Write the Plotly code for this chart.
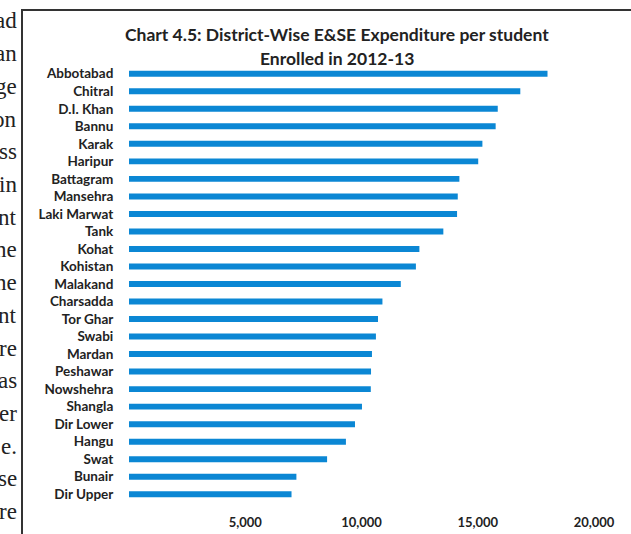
import plotly.graph_objects as go

# District-wise E&SE expenditure per student enrolled, 2012-13 (PKR)
districts = [
    "Abbotabad", "Chitral", "D.I. Khan", "Bannu", "Karak", "Haripur",
    "Battagram", "Mansehra", "Laki Marwat", "Tank", "Kohat", "Kohistan",
    "Malakand", "Charsadda", "Tor Ghar", "Swabi", "Mardan", "Peshawar",
    "Nowshehra", "Shangla", "Dir Lower", "Hangu", "Swat", "Bunair", "Dir Upper",
]
expenditure = [
    18000, 16830, 15860, 15770, 15200, 15020,
    14210, 14140, 14110, 13520, 12490, 12340,
    11690, 10900, 10710, 10620, 10450, 10410,
    10400, 10020, 9720, 9330, 8520, 7200, 6990,
]
tick_values = [5000, 10000, 15000, 20000]
tick_labels = ["5,000", "10,000", "15,000", "20,000"]

# Fragments of the running page text beside the chart box
side_text = ["ad", "an", "ge", "on", "ss", "in", "nt", "ne", "ne", "nt",
             "re", "as", "er", "e.", "se", "re"]

W, H = 631, 534
L, R, T, B = 129, 37, 65, 31
PW, PH = W - L - R, H - T - B


def px(x):
    return (x - L) / PW


def py(y):
    return (H - B - y) / PH


fig = go.Figure(go.Bar(
    x=expenditure,
    y=districts,
    orientation="h",
    marker=dict(color="#0b87d4", line=dict(width=0)),
    width=0.34,
    hoverinfo="x+y",
))

title_font = dict(family="Lato", size=17.5, color="#222222", weight="bold")
annotations = [
    dict(text="Chart 4.5: District-Wise E&SE Expenditure per student",
         x=px(337), y=py(34), xref="paper", yref="paper",
         xanchor="center", yanchor="middle", showarrow=False, font=title_font),
    dict(text="Enrolled in 2012-13",
         x=px(337), y=py(59), xref="paper", yref="paper",
         xanchor="center", yanchor="middle", showarrow=False, font=title_font),
]

for i, frag in enumerate(side_text):
    annotations.append(dict(
        text=frag, x=px(19), y=py(21 + i * 32.7), xref="paper", yref="paper",
        xanchor="right", yanchor="middle", showarrow=False,
        font=dict(family="Liberation Serif", size=23, color="#222222"),
    ))

shapes = [
    dict(type="line", xref="paper", yref="paper",
         x0=px(22), x1=px(22), y0=py(10), y1=py(560),
         line=dict(color="#333333", width=2)),
    dict(type="line", xref="paper", yref="paper",
         x0=px(21), x1=px(660), y0=py(10), y1=py(10),
         line=dict(color="#333333", width=2)),
]

fig.update_layout(
    width=W, height=H,
    margin=dict(l=L, r=R, t=T, b=B, pad=0),
    paper_bgcolor="white", plot_bgcolor="white",
    showlegend=False,
    annotations=annotations,
    shapes=shapes,
    xaxis=dict(
        range=[0, 20000], tickvals=tick_values, ticktext=tick_labels,
        automargin=False,
        showgrid=False, zeroline=False, showline=False,
        ticks="outside", ticklen=7, tickcolor="rgba(0,0,0,0)",
        tickfont=dict(family="Lato", size=13, color="#222222", weight="bold"),
    ),
    yaxis=dict(
        autorange="reversed", automargin=False,
        showgrid=False, zeroline=False, showline=False,
        ticks="outside", ticklen=12, tickcolor="rgba(0,0,0,0)",
        tickfont=dict(family="Lato", size=13.5, color="#222222", weight="bold"),
    ),
)

fig.write_html("out.html")
